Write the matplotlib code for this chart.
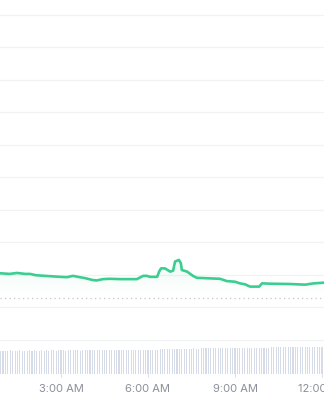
import numpy as np
import pandas as pd
import matplotlib
matplotlib.use("Agg")
import matplotlib.pyplot as plt
import matplotlib.dates as mdates

# price line (clock time, USD)
price_times = ["00:54", "01:14", "01:29", "01:46", "01:56", "02:08", "02:27", "02:58",
               "03:12", "03:25", "03:35", "03:50", "04:06", "04:14", "04:27", "04:41",
               "05:02", "05:37", "05:50", "05:58", "06:04", "06:19", "06:23", "06:27",
               "06:35", "06:46", "06:52", "06:56", "07:04", "07:08", "07:10", "07:21",
               "07:33", "07:41", "07:58", "08:29", "08:43", "09:00", "09:10", "09:21",
               "09:31", "09:50", "09:56", "10:12", "10:54", "11:25", "11:43", "12:04"]
prices = [1.00005, 1.00003, 1.00006, 1.00003, 1.00003, 0.99999, 0.99997, 0.99994,
          0.99993, 0.99997, 0.99994, 0.99990, 0.99984, 0.99983, 0.99987, 0.99988,
          0.99987, 0.99987, 0.99997, 0.99997, 0.99994, 0.99994, 1.00010, 1.00020,
          1.00020, 1.00010, 1.00013, 1.00041, 1.00046, 1.00036, 1.00015, 1.00010,
          0.99997, 0.99991, 0.99990, 0.99988, 0.99981, 0.99979, 0.99974, 0.99971,
          0.99964, 0.99964, 0.99974, 0.99973, 0.99972, 0.99970, 0.99974, 0.99976]
open_price = 0.99930

# 5 minute volume bars (million USD), 00:55 .. 12:05
volumes = [2.34,
           2.33, 2.35, 2.34, 2.36, 2.34, 2.35, 2.33, 2.36, 2.35, 2.34, 2.35, 2.36,
           2.35, 2.36, 2.34, 2.35, 2.37, 2.35, 2.36, 2.34, 2.36, 2.37, 2.35, 2.36,
           2.36, 2.37, 2.35, 2.37, 2.36, 2.38, 2.36, 2.37, 2.35, 2.37, 2.38, 2.36,
           2.37, 2.38, 2.36, 2.38, 2.39, 2.37, 2.38, 2.37, 2.39, 2.38, 2.37, 2.39,
           2.39, 2.40, 2.38, 2.40, 2.41, 2.39, 2.40, 2.41, 2.40, 2.39, 2.41, 2.42,
           2.42, 2.43, 2.41, 2.43, 2.44, 2.47, 2.48, 2.47, 2.49, 2.48, 2.47, 2.49,
           2.49, 2.50, 2.53, 2.54, 2.53, 2.55, 2.54, 2.56, 2.55, 2.54, 2.56, 2.57,
           2.56, 2.57, 2.56, 2.58, 2.57, 2.56, 2.58, 2.57, 2.59, 2.58, 2.57, 2.59,
           2.60, 2.59, 2.61, 2.60, 2.62, 2.61, 2.60, 2.62, 2.63, 2.62, 2.61, 2.63,
           2.64, 2.63, 2.65, 2.68, 2.69, 2.68, 2.70, 2.69, 2.71, 2.70, 2.69, 2.71,
           2.72, 2.71, 2.72, 2.70, 2.73, 2.72, 2.71, 2.73, 2.72, 2.74, 2.73, 2.72,
           2.73, 2.72]
tick_hours = [3, 6, 9, 12]

day = "2024-01-01 "
t = pd.to_datetime([day + s for s in price_times])
vt = pd.date_range(day + "00:55", periods=len(volumes), freq="5min")

green = "#3ccd91"
plt.rcParams["font.family"] = ["Inter", "DejaVu Sans"]

fig = plt.figure(figsize=(3.24, 4.0), dpi=100)
ax = fig.add_axes([0, 0.065, 1, 0.935])
vax = ax.twinx()
ax.set_zorder(2)
ax.patch.set_visible(False)

x0 = mdates.date2num(pd.Timestamp(day + "00:53:48"))
x1 = mdates.date2num(pd.Timestamp(day + "12:04:08"))

# volume
vax.bar(vt, volumes, width=0.45 / 288, color="#d5dbe7", linewidth=0)
vax.set_ylim(0, 37.4)
vax.set_yticks([])

# price
ylo, yhi = 0.996955, 1.008446
for g in np.arange(0.998, 1.0085, 0.001):
    ax.axhline(g, color="#f1f2f4", lw=0.9, zorder=0)
ax.axhline(open_price, color="#c4c7cc", lw=0.9, ls=(0, (1, 2.6)), zorder=1)

tx = mdates.date2num(t)
grad = np.linspace(0.09, 0.0, 100).reshape(-1, 1)
img = ax.imshow(np.dstack([np.full((100, 1, 3), matplotlib.colors.to_rgb(green)), grad]),
                extent=[x0, x1, 0.99935, max(prices)], aspect="auto", origin="upper", zorder=1)
poly = ax.fill_between(tx, prices, 0.99935, color="none")
img.set_clip_path(poly.get_paths()[0], transform=ax.transData)
ax.plot(tx, prices, color=green, lw=1.9, solid_joinstyle="round", solid_capstyle="round", zorder=3)

ax.set_xlim(x0, x1)
ax.set_ylim(ylo, yhi)
ax.set_yticks([])
ax.set_xticks([mdates.date2num(pd.Timestamp(day + f"{h:02d}:00")) for h in tick_hours])
ax.set_xticklabels([f"{(h - 1) % 12 + 1}:00 {'AM' if h < 12 else 'PM'}" for h in tick_hours])
ax.tick_params(axis="x", length=2.2, width=0.8, color="#d9dce1", labelcolor="#8a9099",
               labelsize=8, pad=5)
for a in (ax, vax):
    for s in a.spines.values():
        s.set_visible(False)

fig.savefig("out.png", dpi=100)
